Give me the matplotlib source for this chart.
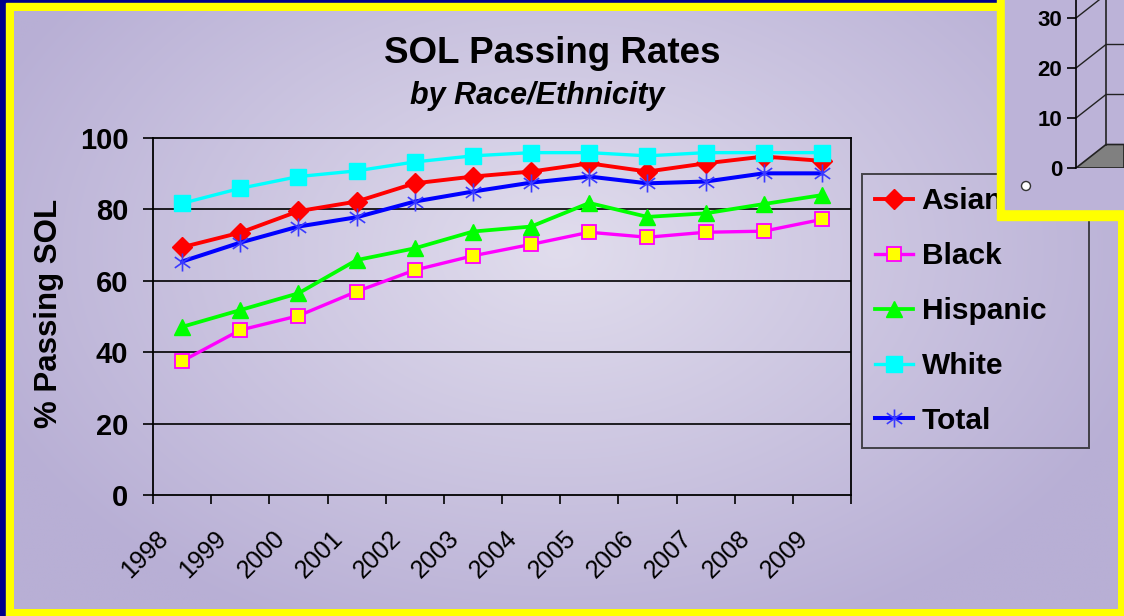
import numpy as np
import matplotlib
matplotlib.use('Agg')
import matplotlib.pyplot as plt
import matplotlib.transforms as mtransforms
from matplotlib.patches import Rectangle, Polygon, Circle
from matplotlib.path import Path

plt.rcParams['font.family'] = ['Liberation Sans', 'DejaVu Sans']

# data
years = ['1998', '1999', '2000', '2001', '2002', '2003',
         '2004', '2005', '2006', '2007', '2008', '2009']
asian = [69.4, 73.5, 79.5, 82.2, 87.3, 89.2, 90.6, 92.9, 90.6, 92.9, 94.8, 93.6]
black = [37.5, 46.2, 50.2, 57.0, 63.0, 67.0, 70.2, 73.6, 72.2, 73.6, 73.9, 77.2]
hispanic = [47.1, 51.8, 56.5, 65.8, 69.1, 73.8, 75.2, 81.8, 77.9, 78.9, 81.5, 84.0]
white = [81.7, 85.9, 89.2, 90.8, 93.3, 95.0, 95.9, 95.9, 95.0, 95.9, 95.9, 95.9]
total = [65.4, 70.7, 75.2, 77.8, 82.2, 85.0, 87.5, 89.2, 87.3, 87.8, 90.1, 90.1]
y_ticks = [0, 20, 40, 60, 80, 100]
inset_ticks = [0, 10, 20, 30]   # fragment of the next chart peeking in

W, H = 1124, 616
fig = plt.figure(figsize=(W / 100, H / 100), dpi=100)
fig.patch.set_facecolor('#00008a')

# slide background: navy, yellow frame, lavender radial gradient
bg = fig.add_axes([0, 0, 1, 1], zorder=0)
bg.add_patch(Rectangle((6, 3), W, H, color='#ffff00', zorder=1))
gx, gy = np.meshgrid(np.linspace(14, 1118, 400), np.linspace(11, 609, 220))
r = np.sqrt(((gx - 560) / 620) ** 2 + ((gy - 250) / 420) ** 2)
r = np.clip(r, 0, 1)
c_in = np.array([225, 221, 237]) / 255
c_out = np.array([184, 175, 213]) / 255
img = c_in[None, None, :] * (1 - r[..., None]) + c_out[None, None, :] * r[..., None]
bg.imshow(img, extent=(14, 1118, 609, 11), aspect='auto', interpolation='bilinear', zorder=2)
bg.set_xlim(0, W)
bg.set_ylim(H, 0)
bg.axis('off')

# main chart
ax = fig.add_axes([153 / W, 1 - 495 / H, 698 / W, 357 / H], zorder=2)
ax.set_facecolor('none')
x = np.arange(len(years))

star = Path([(0, -1), (0, 1), (-0.85, -0.6), (0.85, 0.6), (-0.85, 0.6), (0.85, -0.6)],
            [Path.MOVETO, Path.LINETO] * 3)

ax.plot(x, asian, color='#ff0000', lw=2.8, marker='D', ms=10.5,
        mfc='#ff0000', mec='#ff0000', label='Asian')
ax.plot(x, black, color='#ff00ff', lw=2.4, marker='s', ms=10,
        mfc='#ffff00', mec='#ff00ff', mew=1.3, label='Black')
ax.plot(x, hispanic, color='#00ff00', lw=2.7, marker='^', ms=12,
        mfc='#00ff00', mec='#00ff00', label='Hispanic')
ax.plot(x, white, color='#00ffff', lw=2.4, marker='s', ms=12,
        mfc='#00ffff', mec='#00ffff', label='White')
ax.plot(x, total, color='#0000ff', lw=2.9, marker=star, ms=13,
        mfc='none', mec='#3a3aff', mew=1.2, label='Total')

ax.set_xlim(-0.5, len(years) - 0.5)
ax.set_ylim(0, 100)
ax.set_yticks(y_ticks)
ax.set_yticklabels([str(v) for v in y_ticks], fontsize=21, fontweight='bold')
ax.set_xticks(np.arange(len(years) + 1) - 0.5)
ax.set_xticklabels([])
ax.tick_params(axis='y', direction='out', length=7.2, width=1.2, pad=10.5, color='black')
ax.tick_params(axis='x', direction='out', length=6.5, width=1.2, color='black')
for v in y_ticks[1:-1]:
    ax.axhline(v, color='black', lw=1.2, zorder=1)
for s in ax.spines.values():
    s.set_color('black')
    s.set_linewidth(1.3)

# rotated year labels under the category centres
lab_tr = ax.get_xaxis_transform() + mtransforms.ScaledTranslation(-9 / 100, -31 / 100, fig.dpi_scale_trans)
for i, yr in enumerate(years):
    ax.text(i, 0, yr, transform=lab_tr, rotation=45, ha='right', va='top', fontsize=18)

leg = ax.legend(loc='upper left', bbox_to_anchor=(862 / W, 1 - 451 / H, 227 / W, 277 / H),
                bbox_transform=fig.transFigure, mode='expand', borderaxespad=0,
                prop={'weight': 'bold', 'size': 21.5}, frameon=True,
                fancybox=False, handlelength=1.25, handletextpad=0.3,
                labelspacing=0.9, borderpad=0.45)
leg.get_frame().set_edgecolor('#222222')
leg.get_frame().set_linewidth(1.4)
leg.get_frame().set_facecolor('none')

fig.text(552 / W, 1 - 63 / H, 'SOL Passing Rates', ha='center', va='baseline',
         fontsize=26.5, fontweight='bold')
fig.text(537 / W, 1 - 104 / H, 'by Race/Ethnicity', ha='center', va='baseline',
         fontsize=22, fontweight='bold', style='italic')
fig.text(49 / W, 1 - 313 / H, '% Passing SOL', rotation=90, ha='center', va='center',
         fontsize=22.5, fontweight='bold')

# overlapping inset (next chart) in the top-right corner
fg = fig.add_axes([0, 0, 1, 1], zorder=3)
fg.set_xlim(0, W)
fg.set_ylim(H, 0)
fg.axis('off')
fg.add_patch(Rectangle((997, -5), 140, 225, color='#ffff00'))
fg.add_patch(Rectangle((1005, -5), 140, 214, color='#bcb3d8'))
fg.add_patch(Circle((1026, 186), 4.5, facecolor='white', edgecolor='#333333', lw=1))

ins = fig.add_axes([1076 / W, 1 - 168 / H, 48 / W, 168 / H], zorder=4)
ins.set_facecolor('none')
ins.set_xlim(0, 1)
ins.set_ylim(0, 33.6)
for k in ['top', 'right', 'bottom']:
    ins.spines[k].set_visible(False)
ins.spines['left'].set_color('black')
ins.spines['left'].set_linewidth(1.2)
ins.set_xticks([])
ins.set_yticks(inset_ticks)
ins.set_yticklabels([str(v) for v in inset_ticks], fontsize=16, fontweight='bold')
ins.tick_params(axis='y', direction='out', length=6.5, width=1.2, pad=3.5)
depth = 4.7
back = 0.625
ins.add_patch(Polygon([(0, 0), (back, depth), (1, depth), (1, 0)], closed=True,
                      facecolor='#808080', edgecolor='#222222', lw=1.2))
ins.plot([back, back], [depth, 40], color='#222222', lw=1.2)
for v in inset_ticks[1:]:
    ins.plot([0, back, 1], [v, v + depth, v + depth], color='#222222', lw=1)

fig.savefig('out.png', dpi=100)
